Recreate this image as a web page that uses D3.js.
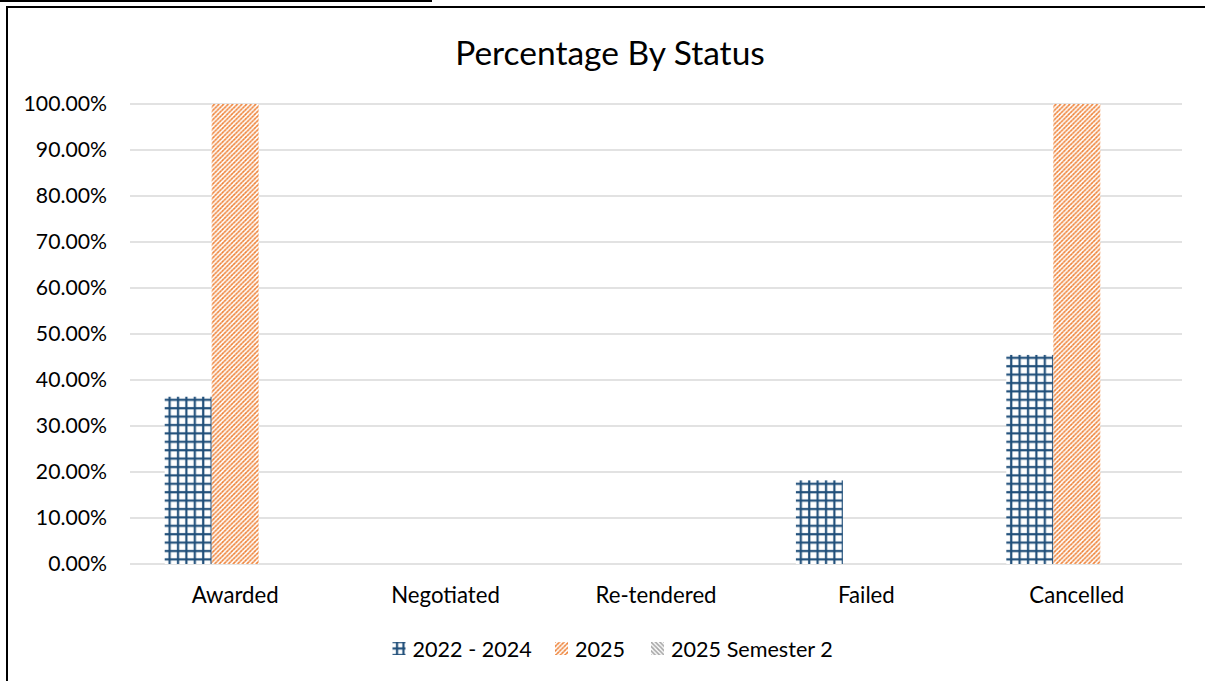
<!DOCTYPE html>
<html>
<head>
<meta charset="utf-8">
<script src="https://cdn.jsdelivr.net/npm/d3@7"></script>
<style>
  html, body { margin: 0; padding: 0; background: #fff; overflow: hidden; }
  svg { display: block; }
  text { font-family: Lato, "Open Sans", sans-serif; fill: #000; }
</style>
</head>
<body>
<svg id="chart" width="1205" height="681"></svg>
<script>
const title = "Percentage By Status";
const categories = ["Awarded", "Negotiated", "Re-tendered", "Failed", "Cancelled"];
const seriesNames = ["2022 - 2024", "2025", "2025 Semester 2"];
const values2022_2024 = [0.3636, 0, 0, 0.1818, 0.4545];
const values2025 = [1.0, 0, 0, 0, 1.0];
const values2025S2 = [0, 0, 0, 0, 0];
const yTicks = [0, 0.1, 0.2, 0.3, 0.4, 0.5, 0.6, 0.7, 0.8, 0.9, 1.0];

const seriesValues = [values2022_2024, values2025, values2025S2];
const patternIds = ["pat-grid", "pat-up", "pat-down"];
const legendPatternIds = ["pat-grid-leg", "pat-up", "pat-down"];

const svg = d3.select("#chart");
const defs = svg.append("defs");

// Blue large grid pattern
function gridPattern(id, size, ox, oy) {
  const p = defs.append("pattern").attr("id", id)
    .attr("patternUnits", "userSpaceOnUse").attr("width", size).attr("height", size)
    .attr("x", ox).attr("y", oy);
  p.append("rect").attr("width", size).attr("height", size).attr("fill", "#fff");
  p.append("rect").attr("x", 1.5).attr("y", 0).attr("width", 3.2).attr("height", size).attr("fill", "#1F4E79").attr("opacity", 0.15);
  p.append("rect").attr("x", 0).attr("y", 1.5).attr("width", size).attr("height", 3.2).attr("fill", "#1F4E79").attr("opacity", 0.15);
  p.append("rect").attr("x", 2).attr("y", 0).attr("width", 2).attr("height", size).attr("fill", "#1F4E79");
  p.append("rect").attr("x", 0).attr("y", 2).attr("width", size).attr("height", 2).attr("fill", "#1F4E79");
}
gridPattern("pat-grid", 8.4, 3, 2);
gridPattern("pat-grid-leg", 6.5, 391.5, 640.5);

// Orange upward diagonal pattern
const S = 4.6;
const pu = defs.append("pattern").attr("id", "pat-up")
  .attr("patternUnits", "userSpaceOnUse").attr("width", S).attr("height", S);
const diag = `M${-S/2},${S/2} L${S/2},${-S/2} M0,${S} L${S},0 M${S/2},${1.5*S} L${1.5*S},${S/2}`;
pu.append("rect").attr("width", S).attr("height", S).attr("fill", "#fff");
pu.append("path").attr("d", diag).attr("stroke", "#F4A66F").attr("stroke-width", 1.5);
pu.append("path").attr("d", diag)
  .attr("stroke", "#ED7D31").attr("stroke-width", 1.2).attr("stroke-dasharray", "2.2,1.0");

// Grey downward diagonal pattern
const pd = defs.append("pattern").attr("id", "pat-down")
  .attr("patternUnits", "userSpaceOnUse").attr("width", 4.4).attr("height", 4.4);
pd.append("rect").attr("width", 4.4).attr("height", 4.4).attr("fill", "#fff");
pd.append("path").attr("d", "M-2.2,2.2 L2.2,6.6 M0,0 L4.4,4.4 M2.2,-2.2 L6.6,2.2")
  .attr("stroke", "#A5A5A5").attr("stroke-width", 1.7);

// Frame
svg.append("line").attr("x1", 0).attr("x2", 432).attr("y1", 1).attr("y2", 1)
  .attr("stroke", "#000").attr("stroke-width", 2);
svg.append("path").attr("d", "M7,690 L7,7 L1220,7")
  .attr("fill", "none").attr("stroke", "#000").attr("stroke-width", 2);

// Title
svg.append("text").attr("x", 610).attr("y", 52).attr("text-anchor", "middle")
  .attr("dominant-baseline", "central").style("font-size", "33.5px").text(title);

// Scales
const x0 = d3.scaleBand().domain(categories).range([130, 1182]).padding(0);
const x1 = d3.scaleBand().domain(seriesNames)
  .range([x0.bandwidth() * 0.165, x0.bandwidth() * 0.835]).padding(0);
const y = d3.scaleLinear().domain([0, 1]).range([564, 104]);

// Gridlines
svg.append("g").selectAll("line").data(yTicks).join("line")
  .attr("x1", 130).attr("x2", 1182)
  .attr("y1", d => y(d)).attr("y2", d => y(d))
  .attr("stroke", "#D9D9D9").attr("stroke-width", 1.5);

// Y axis labels
const yAxis = svg.append("g").attr("transform", "translate(130,0)")
  .call(d3.axisLeft(y).tickValues(yTicks).tickSize(0).tickPadding(23)
    .tickFormat(d => (d * 100).toFixed(2) + "%"));
yAxis.select(".domain").remove();
yAxis.selectAll("text").style("font-size", "21.2px").style("font-family", "Lato, sans-serif").attr("fill", "#000");

// Bars
const groups = svg.append("g").selectAll("g").data(categories).join("g")
  .attr("transform", d => `translate(${x0(d)},0)`);
groups.selectAll("rect").data((c, i) => seriesNames.map((s, k) => ({ s, k, v: seriesValues[k][i] })))
  .join("rect")
  .attr("x", d => x1(d.s)).attr("width", x1.bandwidth())
  .attr("y", d => y(d.v)).attr("height", d => y(0) - y(d.v))
  .attr("fill", d => `url(#${patternIds[d.k]})`);

// X axis labels
const xAxis = svg.append("g").attr("transform", `translate(0,${y(0)})`)
  .call(d3.axisBottom(x0).tickSize(0).tickPadding(23));
xAxis.select(".domain").remove();
xAxis.selectAll("text").style("font-size", "22.2px").style("font-family", "Lato, sans-serif").attr("fill", "#000");

// Legend
const legendX = [392.5, 555, 651];
const legend = svg.append("g").selectAll("g").data(seriesNames).join("g")
  .attr("transform", (d, i) => `translate(${legendX[i]},642)`);
legend.append("rect").attr("width", 13).attr("height", 13)
  .attr("fill", (d, i) => `url(#${legendPatternIds[i]})`);
legend.append("text").attr("x", 20).attr("y", 6.5).attr("dominant-baseline", "central")
  .style("font-size", "21.6px").text(d => d);
</script>
</body>
</html>
